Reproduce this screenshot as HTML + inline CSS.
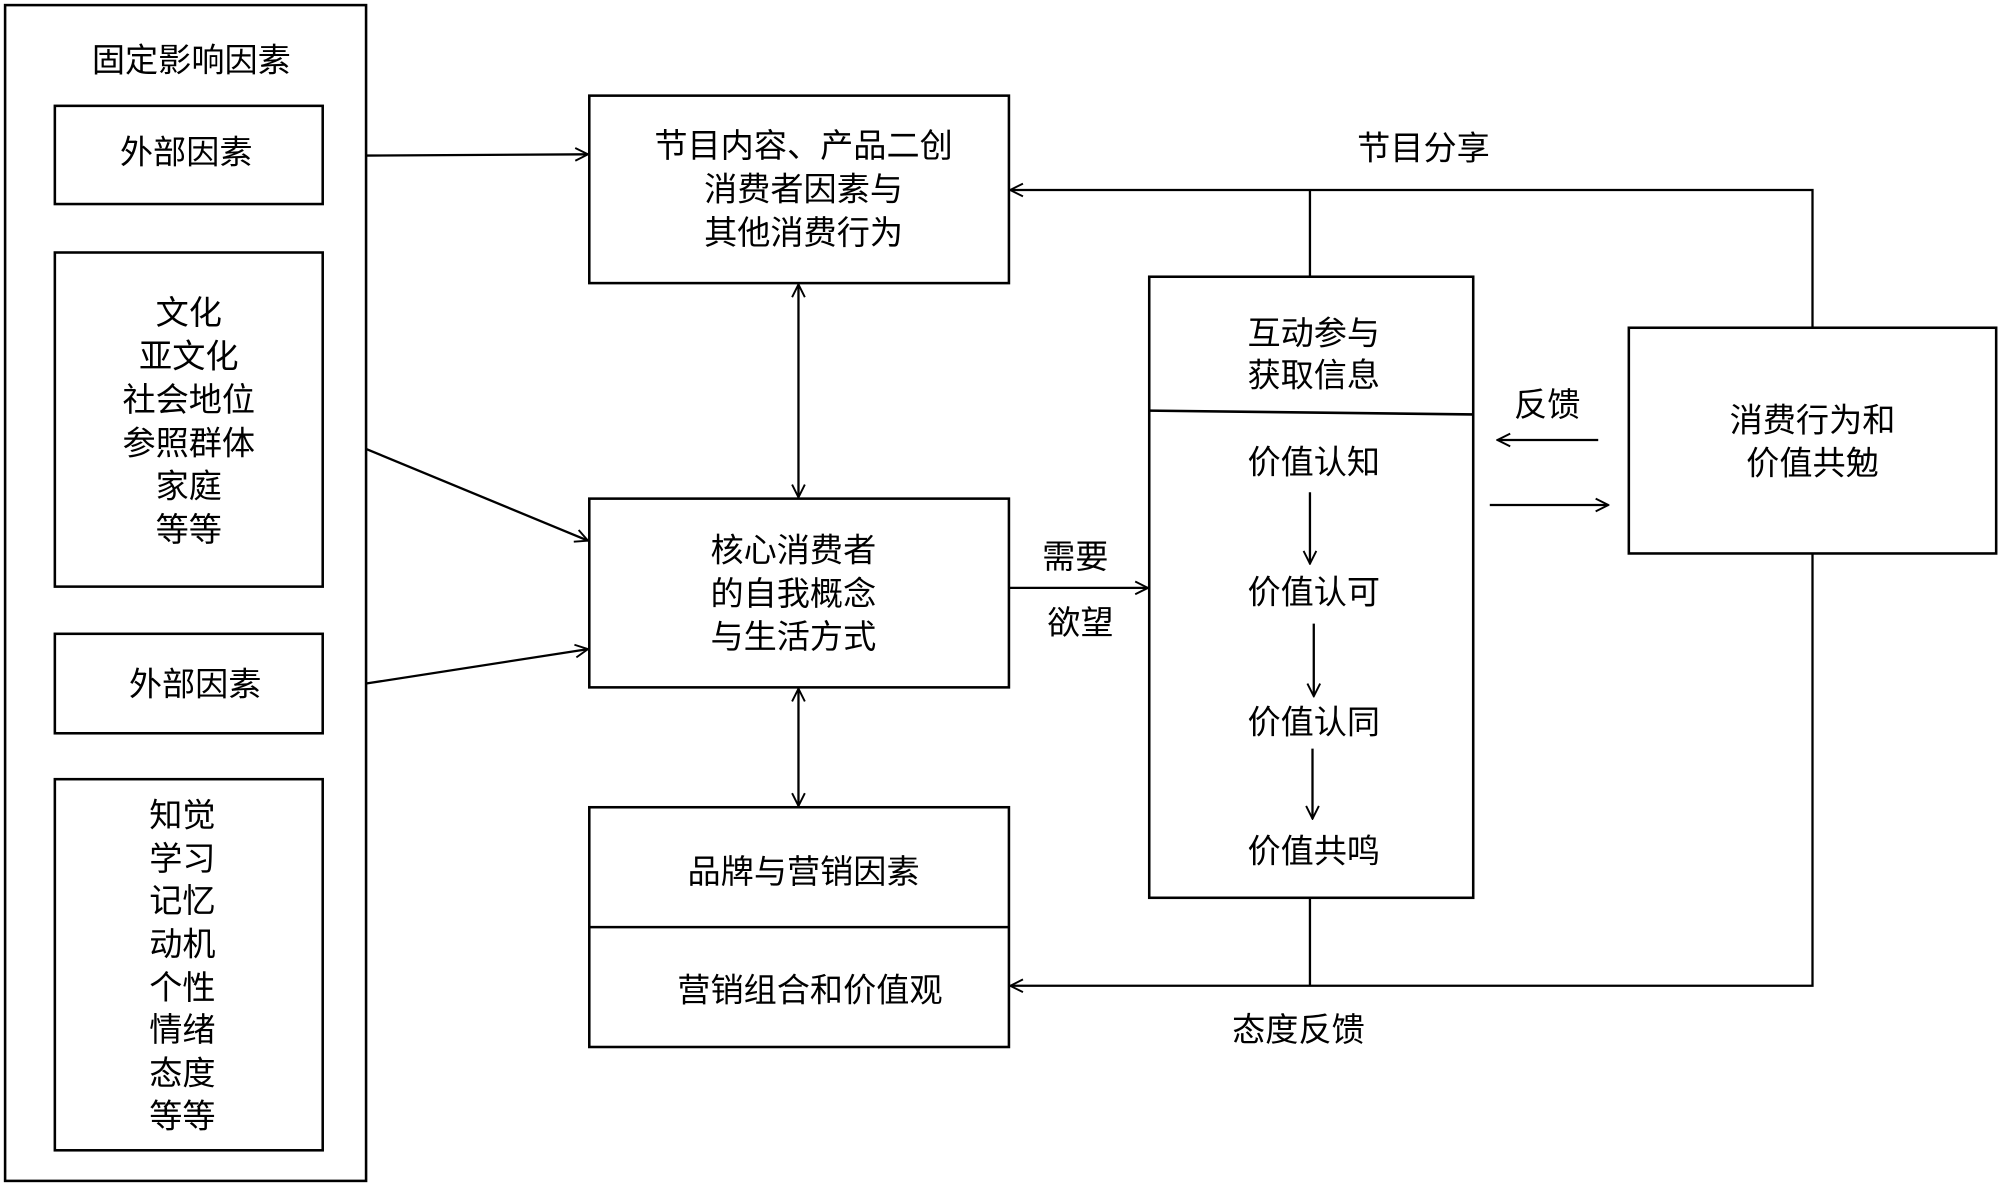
<!DOCTYPE html>
<html><head><meta charset="utf-8">
<style>
html,body{margin:0;padding:0;background:#fff;}
svg{display:block;}
text{font-family:"Liberation Sans","Noto Sans CJK SC",sans-serif;font-size:26px;fill:#000;text-anchor:middle;dominant-baseline:central;}
</style></head>
<body>
<svg width="2000" height="1186" viewBox="0 0 1568 930" preserveAspectRatio="none" xmlns="http://www.w3.org/2000/svg">
<defs>
<marker id="a" viewBox="0 0 12 12" refX="11" refY="6" markerWidth="12" markerHeight="12" markerUnits="userSpaceOnUse" orient="auto-start-reverse">
<path d="M1,1 L11,6 L1,11" fill="none" stroke="#000" stroke-width="1.5"/>
</marker>
</defs>
<g fill="none" stroke="#000" stroke-width="2">
<rect x="4" y="4" width="283" height="922"/>
<rect x="43" y="83" width="210" height="77"/>
<rect x="43" y="198" width="210" height="262"/>
<rect x="43" y="497" width="210" height="78"/>
<rect x="43" y="611" width="210" height="291"/>
<rect x="462" y="75" width="329" height="147"/>
<rect x="462" y="391" width="329" height="148"/>
<rect x="462" y="633" width="329" height="188"/>
<line x1="462" y1="727" x2="791" y2="727"/>
<rect x="901" y="217" width="254" height="487"/>
<line x1="901" y1="322" x2="1155" y2="325"/>
<rect x="1277" y="257" width="288" height="177"/>
</g>
<g fill="none" stroke="#000" stroke-width="1.8">
<line x1="287" y1="122" x2="461" y2="121" marker-end="url(#a)"/>
<line x1="287" y1="352" x2="461" y2="424" marker-end="url(#a)"/>
<line x1="287" y1="536" x2="461" y2="509" marker-end="url(#a)"/>
<line x1="626" y1="223" x2="626" y2="390" marker-start="url(#a)" marker-end="url(#a)"/>
<line x1="626" y1="540" x2="626" y2="632" marker-start="url(#a)" marker-end="url(#a)"/>
<line x1="791" y1="461" x2="900" y2="461" marker-end="url(#a)"/>
<line x1="1027" y1="386" x2="1027" y2="442" marker-end="url(#a)"/>
<line x1="1030" y1="489" x2="1030" y2="546" marker-end="url(#a)"/>
<line x1="1029" y1="587" x2="1029" y2="642" marker-end="url(#a)"/>
<line x1="1027" y1="217" x2="1027" y2="149"/>
<polyline points="1421,257 1421,149 792,149" marker-end="url(#a)"/>
<line x1="1027" y1="704" x2="1027" y2="773"/>
<polyline points="1421,434 1421,773 792,773" marker-end="url(#a)"/>
<line x1="1253" y1="345" x2="1174" y2="345" marker-end="url(#a)"/>
<line x1="1168" y1="396" x2="1261" y2="396" marker-end="url(#a)"/>
</g>
<text x="150" y="48">固定影响因素</text>
<text x="146" y="120">外部因素</text>
<text x="148" y="246">文化</text>
<text x="148" y="280">亚文化</text>
<text x="148" y="314">社会地位</text>
<text x="148" y="348">参照群体</text>
<text x="148" y="382">家庭</text>
<text x="148" y="416">等等</text>
<text x="153" y="537">外部因素</text>
<text x="143" y="640">知觉</text>
<text x="143" y="674">学习</text>
<text x="143" y="707">记忆</text>
<text x="143" y="741">动机</text>
<text x="143" y="775">个性</text>
<text x="143" y="808">情绪</text>
<text x="143" y="842">态度</text>
<text x="143" y="876">等等</text>
<text x="630" y="115">节目内容、产品二创</text>
<text x="630" y="149">消费者因素与</text>
<text x="630" y="183">其他消费行为</text>
<text x="622" y="432">核心消费者</text>
<text x="622" y="466">的自我概念</text>
<text x="622" y="500">与生活方式</text>
<text x="630" y="684">品牌与营销因素</text>
<text x="635" y="777">营销组合和价值观</text>
<text x="1030" y="262">互动参与</text>
<text x="1030" y="295">获取信息</text>
<text x="1030" y="363">价值认知</text>
<text x="1030" y="465">价值认可</text>
<text x="1030" y="567">价值认同</text>
<text x="1030" y="668">价值共鸣</text>
<text x="1421" y="330">消费行为和</text>
<text x="1421" y="364">价值共勉</text>
<text x="843" y="437">需要</text>
<text x="847" y="489">欲望</text>
<text x="1116" y="117">节目分享</text>
<text x="1213" y="318">反馈</text>
<text x="1018" y="808">态度反馈</text>
</svg>
</body></html>
